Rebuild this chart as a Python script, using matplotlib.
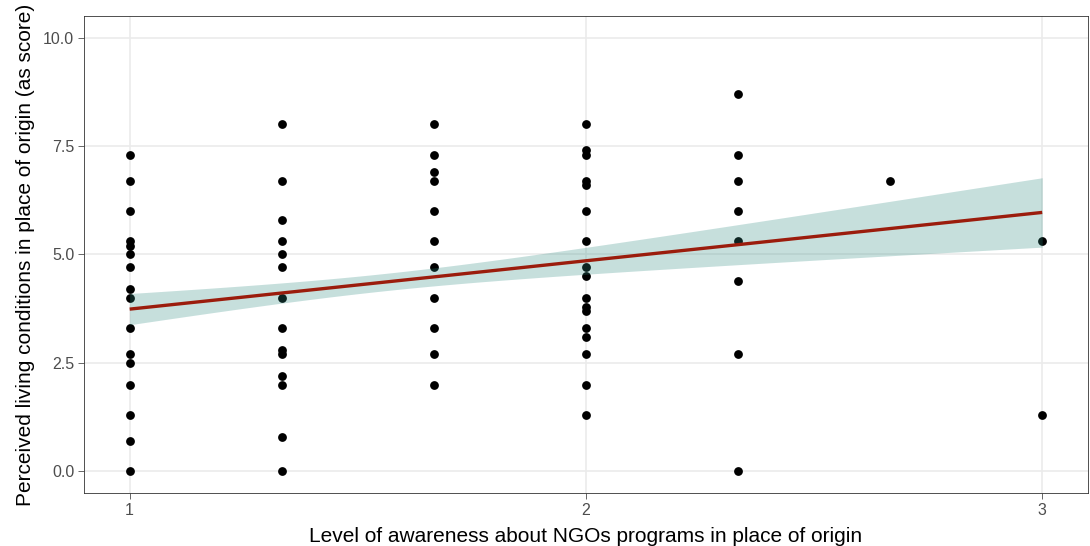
import numpy as np
import matplotlib
matplotlib.use("Agg")
import matplotlib.pyplot as plt

plt.rcParams['font.family'] = ['Liberation Sans', 'DejaVu Sans']

# ---- data ----
x_levels = [1.0, 4/3, 5/3, 2.0, 7/3, 8/3, 3.0]
y_x1 = [7.3, 6.7, 6.0, 5.3, 5.2, 5.0, 4.7, 4.2, 4.0, 3.3, 2.7, 2.5, 2.0, 1.3, 0.7, 0.0]
y_x1_33 = [8.0, 6.7, 5.8, 5.3, 5.0, 4.7, 4.0, 3.3, 2.8, 2.7, 2.2, 2.0, 0.8, 0.0]
y_x1_67 = [8.0, 7.3, 6.9, 6.7, 6.0, 5.3, 4.7, 4.0, 3.3, 2.7, 2.0]
y_x2 = [8.0, 7.4, 7.3, 6.7, 6.6, 6.0, 5.3, 4.7, 4.5, 4.0, 3.8, 3.7, 3.3, 3.1, 2.7, 2.0, 1.3]
y_x2_33 = [8.7, 7.3, 6.7, 6.0, 5.3, 4.4, 2.7, 0.0]
y_x2_67 = [6.7]
y_x3 = [5.3, 1.3]
y_columns = [y_x1, y_x1_33, y_x1_67, y_x2, y_x2_33, y_x2_67, y_x3]

# linear fit: fitted values at x = 1 and x = 3
fit_x = [1.0, 3.0]
fit_y = [3.74, 5.97]
# 95% CI half-widths at x = 1, 2, 3
ci_x = [1.0, 2.0, 3.0]
ci_halfwidth = [0.36, 0.31, 0.80]

x_ticks = [1, 2, 3]
y_ticks = [0.0, 2.5, 5.0, 7.5, 10.0]
y_tick_labels = ["0.0", "2.5", "5.0", "7.5", "10.0"]
x_title = "Level of awareness about NGOs programs in place of origin"
y_title = "Perceived living conditions in place of origin (as score)"

# ---- figure ----
fig = plt.figure(figsize=(10.9, 5.46), dpi=100)
ax = fig.add_axes([0.0771, 0.0971, 0.9209, 0.8736])

for xv, ys in zip(x_levels, y_columns):
    ax.scatter([xv] * len(ys), ys, s=40, color='black', linewidths=0, zorder=3)

# CI band: half-width^2 = a + b (x - c)^2 solved from three read widths
h2 = np.array(ci_halfwidth) ** 2
A = np.array([[1, x**2, -2 * x] for x in ci_x])
p0, b, bc = np.linalg.solve(A, h2)
xs = np.linspace(fit_x[0], fit_x[1], 200)
slope = (fit_y[1] - fit_y[0]) / (fit_x[1] - fit_x[0])
line = fit_y[0] + slope * (xs - fit_x[0])
hw = np.sqrt(np.clip(p0 + b * xs**2 - 2 * bc * xs, 0, None))
ax.fill_between(xs, line - hw, line + hw, color='#2E8B80', alpha=0.27,
                linewidth=0, zorder=4)
ax.plot(xs, line, color='#9B1C0C', lw=2.4, zorder=5, solid_capstyle='butt')

ax.set_xlim(0.9, 3.1)
ax.set_ylim(-0.5, 10.5)
ax.set_xticks(x_ticks)
ax.set_xticklabels([str(t) for t in x_ticks])
ax.set_yticks(y_ticks)
ax.set_yticklabels(y_tick_labels)
ax.grid(True, color='#EBEBEB', lw=1.2, zorder=0)
ax.set_axisbelow(True)
for sp in ax.spines.values():
    sp.set_color('#333333')
    sp.set_linewidth(0.6)
ax.tick_params(axis='both', colors='#4D4D4D', labelsize=11.5, length=4,
               width=0.6, pad=3)
ax.tick_params(axis='both', labelcolor='#4D4D4D')
ax.set_xlabel(x_title, fontsize=15, color='black', labelpad=7)
ax.set_ylabel(y_title, fontsize=15, color='black', labelpad=6)

fig.savefig("out.png", dpi=100, facecolor='white')
